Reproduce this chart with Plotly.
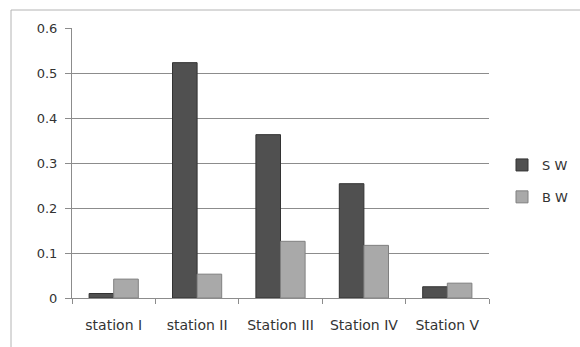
import plotly.graph_objects as go

stations = ["station I", "station II", "Station III", "Station IV", "Station V"]
sw_values = [0.01, 0.523, 0.363, 0.254, 0.025]
bw_values = [0.042, 0.053, 0.126, 0.117, 0.033]
y_ticks = [0, 0.1, 0.2, 0.3, 0.4, 0.5, 0.6]
y_tick_text = ["0", "0.1", "0.2", "0.3", "0.4", "0.5", "0.6"]

W, H = 580, 347
ml, mr, mt, mb = 72, 91, 28, 49
plot_w = W - ml - mr
plot_h = H - mt - mb

fig = go.Figure()
fig.add_trace(go.Bar(
    x=stations, y=sw_values, name="S W", legendgroup="sw",
    marker=dict(color="#505050", line=dict(color="#333333", width=1)),
))
fig.add_trace(go.Bar(
    x=stations, y=bw_values, name="B W", legendgroup="bw",
    marker=dict(color="#a9a9a9", line=dict(color="#808080", width=1)),
))

# outer chart frame, opening past the right and bottom edges
fig.add_shape(
    type="rect", xref="paper", yref="paper",
    x0=(11 - ml) / plot_w, x1=(W + 20 - ml) / plot_w,
    y0=-(mb + 20) / plot_h, y1=1 + (mt - 10) / plot_h,
    line=dict(color="#b4b4b4", width=1), fillcolor="rgba(0,0,0,0)",
    layer="below",
)

fig.update_layout(
    width=W, height=H,
    margin=dict(l=ml, r=mr, t=mt, b=mb, pad=0, autoexpand=False),
    paper_bgcolor="white", plot_bgcolor="white",
    font=dict(family="DejaVu Sans", size=13, color="#333333"),
    barmode="group", bargap=0.41, bargroupgap=0,
    showlegend=True,
    legend=dict(
        x=(502 - ml) / plot_w, y=(298 - 181) / plot_h,
        xanchor="left", yanchor="middle",
        font=dict(size=13, color="#333333"),
        tracegroupgap=12, itemwidth=30,
        bgcolor="rgba(0,0,0,0)",
    ),
    xaxis=dict(
        showline=True, linecolor="#8c8c8c", linewidth=1,
        ticks="outside", ticklen=5, tickcolor="#8c8c8c",
        tickson="boundaries", ticklabelstandoff=14,
        tickfont=dict(size=14, color="#333333"),
        showgrid=False, zeroline=False,
    ),
    yaxis=dict(
        range=[0, 0.6], tickvals=y_ticks, ticktext=y_tick_text,
        showline=True, linecolor="#8c8c8c", linewidth=1,
        ticks="outside", ticklen=6, tickcolor="#8c8c8c",
        ticklabelstandoff=5,
        showgrid=True, gridcolor="#8c8c8c", gridwidth=1,
        zeroline=False,
        tickfont=dict(size=13, color="#333333"),
    ),
)

fig.write_html("out.html")
